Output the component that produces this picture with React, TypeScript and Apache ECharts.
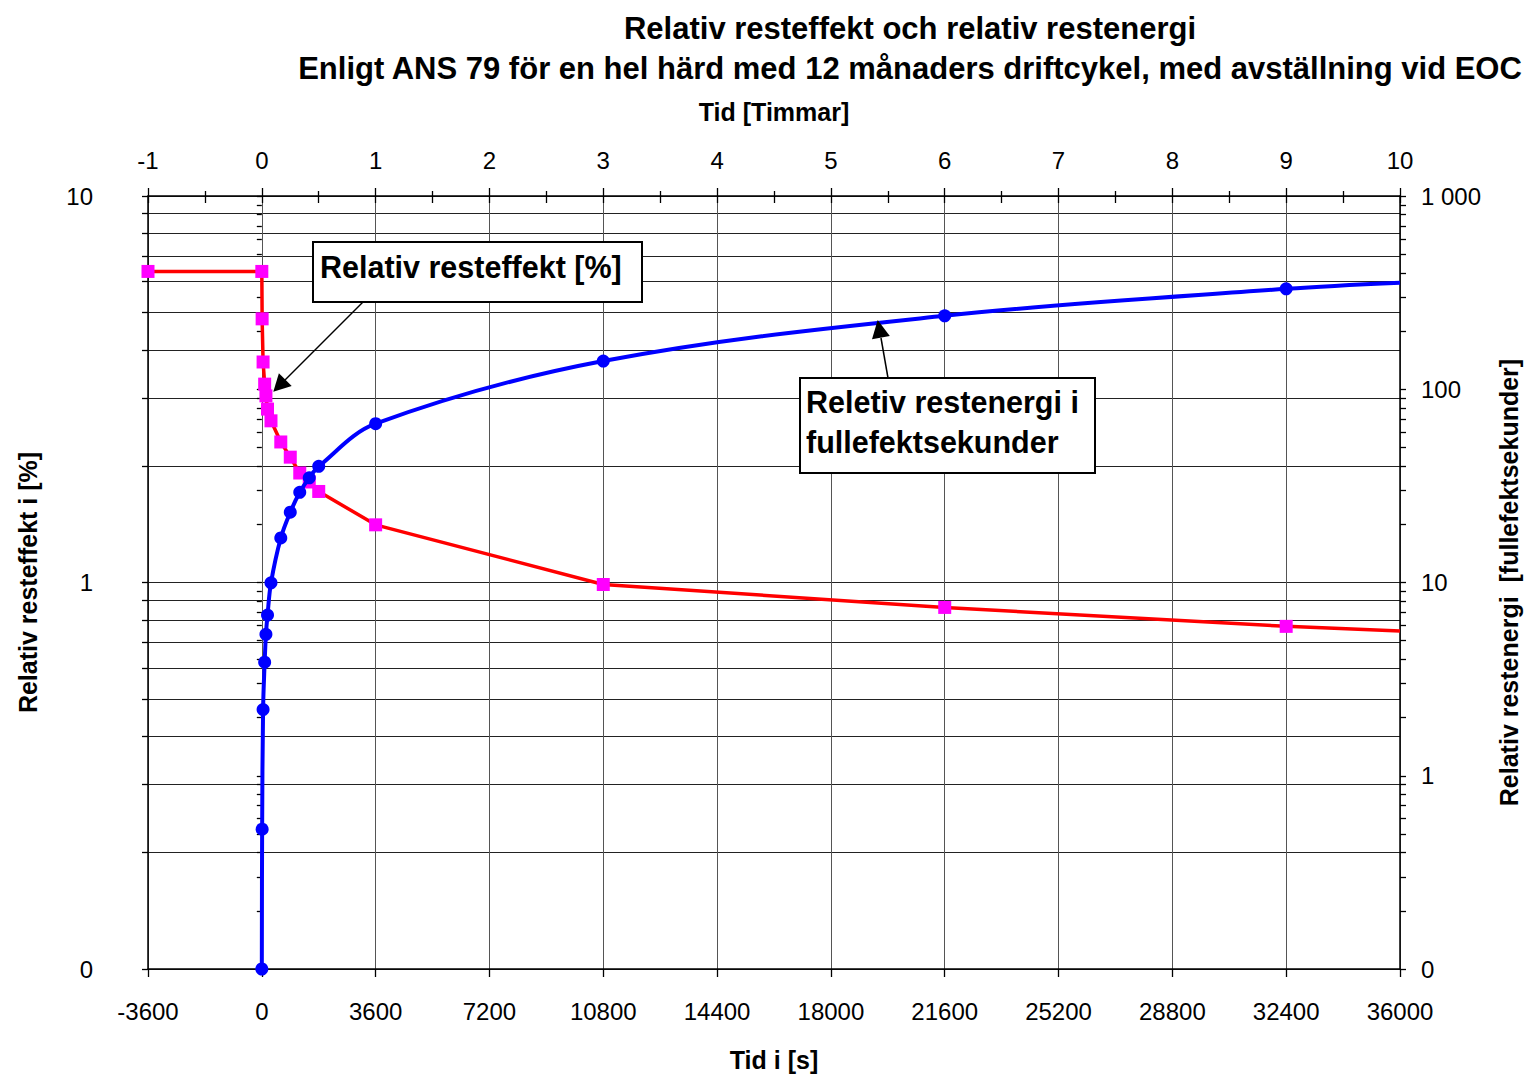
import React, { useEffect, useRef } from 'react';
import * as echarts from 'echarts';

// ---- Data ----
// Relativ resteffekt [%] (left axis) vs time [s]
const effektTime = [-3600, 0, 10, 40, 90, 130, 180, 290, 600, 900, 1200, 1500, 1800, 3600, 10800, 21600, 32400, 36000];
const effektPct = [6.38, 6.38, 4.81, 3.72, 3.26, 3.04, 2.81, 2.62, 2.31, 2.11, 1.92, 1.82, 1.72, 1.41, 0.988, 0.862, 0.77, 0.749];

// Relativ restenergi [fullefektsekunder] (right axis) vs time [s]
const energiTime = [0, 10, 40, 90, 130, 180, 290, 600, 900, 1200, 1500, 1800, 3600, 10800, 21600, 32400, 36000];
const energiFps = [0.1, 0.529, 2.2, 3.87, 5.39, 6.78, 9.96, 17.0, 23.1, 29.3, 34.8, 39.9, 66.3, 140, 240, 331, 356];

// ---- Axis ticks / labels ----
const secMin = -3600;
const secMax = 36000;
const secStep = 3600;
const hourMin = -1;
const hourMax = 10;
const hourStep = 1;

const leftTickValues = [0.1, 0.2, 0.3, 0.4, 0.5, 0.6, 0.7, 0.8, 0.9, 1, 2, 3, 4, 5, 6, 7, 8, 9, 10];
const leftLabelValues = [0.1, 1, 10];
const rightTickValues = [
  0.1, 0.2, 0.3, 0.4, 0.5, 0.6, 0.7, 0.8, 0.9,
  1, 2, 3, 4, 5, 6, 7, 8, 9,
  10, 20, 30, 40, 50, 60, 70, 80, 90,
  100, 200, 300, 400, 500, 600, 700, 800, 900, 1000,
];
const rightLabelValues = [0.1, 1, 10, 100, 1000];

const titleLines = [
  'Relativ resteffekt och relativ restenergi',
  'Enligt ANS 79 för en hel härd med 12 månaders driftcykel, med avställning vid EOC',
];

const FONT = '"Liberation Sans", Arial, sans-serif';

const fmtInt = (v: number) =>
  String(Math.round(v)).replace(/\B(?=(\d{3})+(?!\d))/g, ' ');
const fmtPlain = (v: number) => String(v);

export default function App() {
  const ref = useRef<HTMLDivElement>(null);

  useEffect(() => {
    document.body.style.margin = '0';
    document.body.style.overflow = 'hidden';
    if (!ref.current) return;
    const chart = echarts.init(ref.current, null, { renderer: 'svg' });

    const axisLineStyle = { color: '#000', width: 1.5 };
    const tickStyle = { color: '#000', width: 1.3 };
    const labelStyle = { fontSize: 24, color: '#000', fontFamily: FONT };
    const nameStyle = { fontSize: 25, fontWeight: 'bold' as const, color: '#000', fontFamily: FONT };

    const last = effektTime.length - 1;
    const lastE = energiTime.length - 1;

    const option: any = {
      animation: false,
      textStyle: { fontFamily: FONT },
      grid: { left: 148, right: 123, top: 196, bottom: 107, containLabel: false },
      xAxis: [
        {
          type: 'value',
          position: 'bottom',
          min: secMin,
          max: secMax,
          interval: secStep,
          axisLine: { show: true, onZero: false, lineStyle: axisLineStyle },
          axisTick: { show: true, inside: false, length: 8, lineStyle: tickStyle },
          axisLabel: { ...labelStyle, margin: 30, formatter: fmtPlain },
          splitLine: { show: true, lineStyle: { color: '#555', width: 1 } },
          name: 'Tid i [s]',
          nameLocation: 'middle',
          nameGap: 78,
          nameTextStyle: nameStyle,
        },
        {
          type: 'value',
          position: 'top',
          min: hourMin,
          max: hourMax,
          interval: hourStep,
          axisLine: { show: true, onZero: false, lineStyle: axisLineStyle },
          axisTick: { show: true, inside: false, length: 8, lineStyle: tickStyle },
          minorTick: { show: true, splitNumber: 2, length: 5, lineStyle: tickStyle },
          axisLabel: { ...labelStyle, margin: 24, formatter: fmtPlain },
          splitLine: { show: false },
          name: 'Tid [Timmar]',
          nameLocation: 'middle',
          nameGap: 72,
          nameTextStyle: nameStyle,
        },
        {
          type: 'value',
          position: 'top',
          min: hourMin,
          max: hourMax,
          interval: hourStep,
          axisLine: { show: false },
          axisTick: { show: true, inside: true, length: 7, lineStyle: tickStyle },
          minorTick: { show: true, splitNumber: 2, length: 7, lineStyle: tickStyle },
          axisLabel: { show: false },
          splitLine: { show: false },
        },
      ],
      yAxis: [
        {
          type: 'log',
          logBase: 10,
          position: 'left',
          min: 0.1,
          max: 10,
          axisLine: { show: true, onZero: false, lineStyle: axisLineStyle },
          axisTick: { show: true, inside: false, length: 6, lineStyle: tickStyle, customValues: leftTickValues },
          axisLabel: { ...labelStyle, margin: 55, customValues: leftLabelValues, formatter: fmtInt },
          splitLine: { show: true, lineStyle: { color: '#222', width: 1 } },
          name: 'Relativ resteffekt i [%]',
          nameLocation: 'middle',
          nameRotate: 90,
          nameGap: 108,
          nameTextStyle: nameStyle,
        },
        {
          type: 'log',
          logBase: 10,
          position: 'right',
          min: 0.1,
          max: 1000,
          axisLine: { show: true, onZero: false, lineStyle: axisLineStyle },
          axisTick: { show: true, inside: false, length: 6, lineStyle: tickStyle, customValues: rightTickValues },
          axisLabel: { ...labelStyle, margin: 21, customValues: rightLabelValues, formatter: fmtInt },
          splitLine: { show: false },
          name: 'Relativ restenergi  [fullefektsekunder]',
          nameLocation: 'middle',
          nameRotate: 90,
          nameGap: 96,
          nameTextStyle: nameStyle,
        },
        {
          type: 'log',
          logBase: 10,
          position: 'right',
          min: 0.1,
          max: 1000,
          axisLine: { show: false },
          axisTick: { show: true, inside: true, length: 5, lineStyle: tickStyle, customValues: rightTickValues },
          axisLabel: { show: false },
          splitLine: { show: false },
        },
      ],
      series: [
        {
          type: 'line',
          name: 'Relativ resteffekt [%]',
          xAxisIndex: 0,
          yAxisIndex: 0,
          data: effektTime.map((t, i) =>
            i === last ? { value: [t, effektPct[i]], symbol: 'none' } : [t, effektPct[i]]
          ),
          symbol: 'rect',
          symbolSize: 13,
          showAllSymbol: true,
          itemStyle: { color: '#FF00FF' },
          lineStyle: { color: '#FF0000', width: 3.5 },
          emphasis: { disabled: true },
          z: 3,
        },
        {
          type: 'line',
          name: 'Relativ restenergi',
          xAxisIndex: 0,
          yAxisIndex: 1,
          data: energiTime.map((t, i) =>
            i === lastE ? { value: [t, energiFps[i]], symbol: 'none' } : [t, energiFps[i]]
          ),
          symbol: 'circle',
          symbolSize: 13,
          showAllSymbol: true,
          smooth: 0.35,
          itemStyle: { color: '#0000FF' },
          lineStyle: { color: '#0000FF', width: 4 },
          emphasis: { disabled: true },
          z: 4,
        },
      ],
      graphic: {
        elements: [
          // titles
          {
            type: 'text', x: 910, y: 28, z: 100,
            style: { text: titleLines[0], fontSize: 31, fontWeight: 'bold', fontFamily: FONT, fill: '#000', align: 'center', verticalAlign: 'middle' },
          },
          {
            type: 'text', x: 910, y: 68, z: 100,
            style: { text: titleLines[1], fontSize: 31, fontWeight: 'bold', fontFamily: FONT, fill: '#000', align: 'center', verticalAlign: 'middle' },
          },
          // arrow 1
          { type: 'line', z: 100, shape: { x1: 363, y1: 302, x2: 285, y2: 380 }, style: { stroke: '#000', lineWidth: 1.5 } },
          { type: 'polygon', z: 100, shape: { points: [[273.3, 391.7], [291.7, 386.1], [278.9, 373.3]] }, style: { fill: '#000' } },
          // arrow 2
          { type: 'line', z: 100, shape: { x1: 888, y1: 378, x2: 881, y2: 338 }, style: { stroke: '#000', lineWidth: 1.5 } },
          { type: 'polygon', z: 100, shape: { points: [[877.7, 320], [889.8, 336.1], [872, 339.3]] }, style: { fill: '#000' } },
          // box 1
          { type: 'rect', z: 101, shape: { x: 313, y: 242, width: 329, height: 60 }, style: { fill: '#fff', stroke: '#000', lineWidth: 2 } },
          {
            type: 'text', x: 320, y: 267, z: 102,
            style: { text: 'Relativ resteffekt [%]', fontSize: 30.5, fontWeight: 'bold', fontFamily: FONT, fill: '#000', align: 'left', verticalAlign: 'middle' },
          },
          // box 2
          { type: 'rect', z: 101, shape: { x: 800, y: 378, width: 295, height: 95 }, style: { fill: '#fff', stroke: '#000', lineWidth: 2 } },
          {
            type: 'text', x: 806, y: 382, z: 102,
            style: { text: 'Reletiv restenergi i\nfullefektsekunder', fontSize: 30.5, lineHeight: 40, fontWeight: 'bold', fontFamily: FONT, fill: '#000', align: 'left', verticalAlign: 'top' },
          },
        ],
      },
    };

    chart.setOption(option);
    return () => chart.dispose();
  }, []);

  return <div ref={ref} style={{ width: 1529, height: 1077 }} />;
}
